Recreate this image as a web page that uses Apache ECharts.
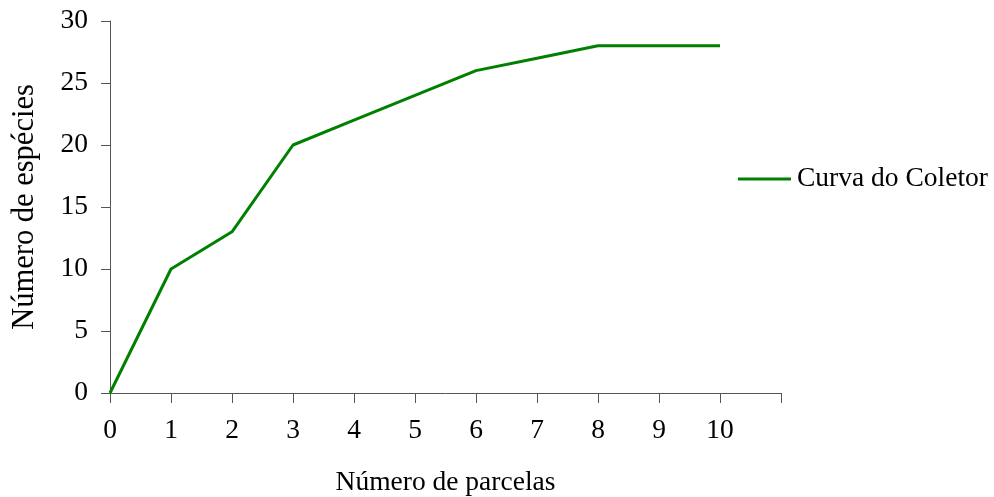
<!DOCTYPE html>
<html>
<head>
<meta charset="utf-8">
<script src="https://cdn.jsdelivr.net/npm/echarts@6/dist/echarts.min.js"></script>
<style>
  html, body { margin: 0; padding: 0; background: #fff; }
  #chart { width: 994px; height: 497px; }
</style>
</head>
<body>
<div id="chart"></div>
<script>
// Curva do coletor
const parcelas = [0, 1, 2, 3, 4, 5, 6, 7, 8, 9, 10];
const especies = [0, 10, 13, 20, 22, 24, 26, 27, 28, 28, 28];
const yTicks = [0, 5, 10, 15, 20, 25, 30];

const serif = 'Liberation Serif';
const fs = 27.5;
const chart = echarts.init(document.getElementById('chart'));
chart.setOption({
  animation: false,
  textStyle: { fontFamily: serif },
  grid: { left: 110, right: 213, top: 21, bottom: 104, outerBoundsMode: 'none', containLabel: false },
  legend: {
    left: 733, top: 160,
    itemWidth: 53, itemHeight: 3,
    icon: 'rect',
    itemGap: 6,
    textStyle: { fontFamily: serif, fontSize: fs, color: '#000', padding: [0, 0, 0, 1] },
    data: ['Curva do Coletor']
  },
  xAxis: {
    type: 'value',
    min: 0, max: 11, interval: 1,
    name: 'Número de parcelas',
    nameLocation: 'middle',
    nameGap: 76,
    nameTextStyle: { fontFamily: serif, fontSize: fs, color: '#000' },
    axisLine: { lineStyle: { color: '#555', width: 1 } },
    axisTick: { show: true, length: 10, inside: false, lineStyle: { color: '#555' } },
    splitLine: { show: false },
    axisLabel: {
      fontFamily: serif, fontSize: fs, color: '#000', margin: 24,
      formatter: v => (v <= 10 ? String(v) : '')
    }
  },
  yAxis: {
    type: 'value',
    min: yTicks[0], max: yTicks[yTicks.length - 1], interval: 5,
    name: 'Número de espécies',
    nameLocation: 'middle',
    nameGap: 70,
    nameTextStyle: { fontFamily: serif, fontSize: 30.5, color: '#000' },
    axisLine: { show: true, lineStyle: { color: '#555', width: 1 } },
    axisTick: { show: true, length: 9, lineStyle: { color: '#555' } },
    splitLine: { show: false },
    axisLabel: { fontFamily: serif, fontSize: fs, color: '#000', margin: 22 }
  },
  series: [{
    name: 'Curva do Coletor',
    type: 'line',
    data: parcelas.map((x, i) => [x, especies[i]]),
    showSymbol: false,
    symbol: 'none',
    color: '#008000',
    lineStyle: { color: '#008000', width: 3 }
  }]
});
</script>
</body>
</html>
